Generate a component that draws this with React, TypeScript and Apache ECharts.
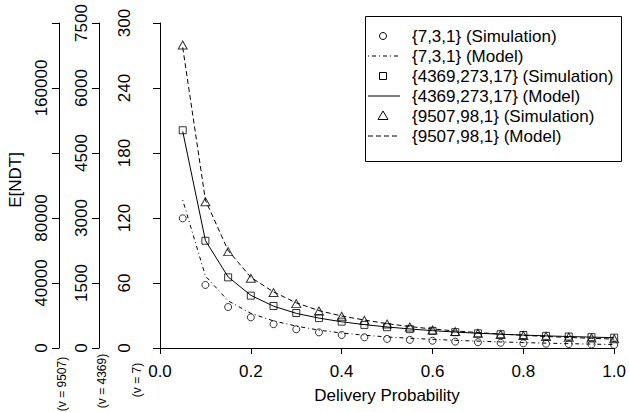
import React, { useEffect, useRef } from "react";
import * as echarts from "echarts";

const probs = [0.05, 0.1, 0.15, 0.2, 0.25, 0.3, 0.35, 0.4, 0.45, 0.5, 0.55, 0.6, 0.65, 0.7, 0.75, 0.8, 0.85, 0.9, 0.95, 1.0];

// {7,3,1}  (v = 7 axis)
const sim7 = [119.7, 58.2, 37.8, 28.3, 22, 17.3, 14.4, 12, 9.9, 8.4, 7.5, 6.7, 5.9, 5.3, 4.8, 4.3, 3.9, 3.6, 3.2, 2.8];
const model7 = [136.6, 66.5, 43.5, 32, 25, 20.2, 16.5, 13.8, 11.8, 10.2, 9, 8, 7.1, 6.3, 5.6, 5, 4.5, 4, 3.6, 3.2];

// {4369,273,17}  (v = 4369 axis)
const sim4369 = [5025, 2475, 1630, 1208, 970, 808, 690, 608, 533, 480, 435, 395, 365, 338, 318, 300, 280, 265, 250, 238];
const model4369 = [5000, 2480, 1640, 1215, 965, 800, 690, 605, 540, 485, 440, 400, 368, 340, 318, 298, 280, 265, 251, 238];

// {9507,98,1}  (v = 9507 axis)
const sim9507 = [186500, 90000, 59300, 42900, 34100, 27300, 22800, 19500, 17000, 14800, 12900, 11100, 10100, 9070, 8330, 7730, 7130, 6670, 6130, 5730];
const model9507 = [185000, 91000, 60000, 43500, 34500, 27800, 23000, 19700, 17200, 15000, 13200, 11700, 10500, 9500, 8600, 7800, 7100, 6500, 5950, 5450];

const legendLabels = [
  "{7,3,1} (Simulation)",
  "{7,3,1} (Model)",
  "{4369,273,17} (Simulation)",
  "{4369,273,17} (Model)",
  "{9507,98,1} (Simulation)",
  "{9507,98,1} (Model)",
];

const FONT = "'Liberation Sans', Arial, Helvetica, sans-serif";
const FS = 17;
const DOTDASH = [1, 3, 4, 3];
const DASH = [5, 3];

const pairs = (ys: number[]) => probs.map((p, i) => [p, ys[i]]);

function yAxisDef(max: number, interval: number, offset: number, hide: number[] = []) {
  return {
    type: "value",
    position: "left",
    min: 0,
    max,
    interval,
    offset,
    splitLine: { show: false },
    axisLine: { show: true, lineStyle: { color: "#000", width: 1 } },
    axisTick: { show: true, length: 7, lineStyle: { color: "#000", width: 1 } },
    axisLabel: {
      rotate: 90,
      fontSize: FS,
      color: "#000",
      fontFamily: FONT,
      margin: 9,
      showMaxLabel: true,
      formatter: (v: number) => (hide.includes(v) ? "" : String(v)),
    },
  };
}

export default function App() {
  const ref = useRef<HTMLDivElement>(null);
  useEffect(() => {
    document.body.style.margin = "0";
    const chart = echarts.init(ref.current!, null, { renderer: "svg" });
    const rowY = [36, 56, 76, 96, 116, 136];
    const symX = 383;
    const graphic: any[] = [
      {
        type: "rect",
        shape: { x: 365.5, y: 16.5, width: 256, height: 145 },
        style: { fill: "#fff", stroke: "#000", lineWidth: 1 },
        z: 100,
      },
      { type: "circle", shape: { cx: symX, cy: rowY[0], r: 3.5 }, style: { fill: "none", stroke: "#000", lineWidth: 1 }, z: 101 },
      { type: "line", shape: { x1: 368, y1: rowY[1], x2: 400, y2: rowY[1] }, style: { stroke: "#000", lineWidth: 1, lineDash: DOTDASH }, z: 101 },
      { type: "rect", shape: { x: symX - 3.5, y: rowY[2] - 3.5, width: 7, height: 7 }, style: { fill: "none", stroke: "#000", lineWidth: 1 }, z: 101 },
      { type: "line", shape: { x1: 368, y1: rowY[3], x2: 400, y2: rowY[3] }, style: { stroke: "#000", lineWidth: 1 }, z: 101 },
      {
        type: "polygon",
        shape: { points: [[symX, rowY[4] - 5], [symX + 5, rowY[4] + 3.5], [symX - 5, rowY[4] + 3.5]] },
        style: { fill: "none", stroke: "#000", lineWidth: 1 },
        z: 101,
      },
      { type: "line", shape: { x1: 368, y1: rowY[5], x2: 400, y2: rowY[5] }, style: { stroke: "#000", lineWidth: 1, lineDash: DASH }, z: 101 },
      ...legendLabels.map((t, i) => ({
        type: "text",
        x: 412,
        y: rowY[i],
        style: { text: t, fontSize: FS, fontFamily: FONT, fill: "#000", verticalAlign: "middle", align: "left" },
        z: 101,
      })),
      {
        type: "text",
        x: 15,
        y: 180,
        rotation: Math.PI / 2,
        style: { text: "E[NDT]", fontSize: FS, fontFamily: FONT, fill: "#000", align: "center", verticalAlign: "middle" },
      },
      {
        type: "text",
        x: 62,
        y: 384,
        rotation: Math.PI / 2,
        style: { text: "(v = 9507)", fontSize: 12, fontFamily: FONT, fill: "#000", align: "center", verticalAlign: "middle" },
      },
      {
        type: "text",
        x: 102,
        y: 381,
        rotation: Math.PI / 2,
        style: { text: "(v = 4369)", fontSize: 12, fontFamily: FONT, fill: "#000", align: "center", verticalAlign: "middle" },
      },
      {
        type: "text",
        x: 137,
        y: 380,
        rotation: Math.PI / 2,
        style: { text: "(v = 7)", fontSize: 12, fontFamily: FONT, fill: "#000", align: "center", verticalAlign: "middle" },
      },
    ];

    const symStyle = { color: "transparent", borderColor: "#000", borderWidth: 1 };

    chart.setOption({
      animation: false,
      backgroundColor: "#fff",
      grid: { left: 160, right: 10, top: 23, bottom: 64, containLabel: false },
      xAxis: {
        type: "value",
        min: 0,
        max: 1,
        interval: 0.2,
        offset: 9,
        name: "Delivery Probability",
        nameLocation: "middle",
        nameGap: 30,
        nameTextStyle: { fontSize: FS, color: "#000", fontFamily: FONT },
        splitLine: { show: false },
        axisLine: { show: true, lineStyle: { color: "#000", width: 1 } },
        axisTick: { show: true, length: 6, lineStyle: { color: "#000", width: 1 } },
        axisLabel: {
          fontSize: FS,
          color: "#000",
          fontFamily: FONT,
          margin: 6,
          formatter: (v: number) => v.toFixed(1),
        },
      },
      yAxis: [
        yAxisDef(300, 60, 18),
        yAxisDef(7500, 1500, 61),
        yAxisDef(200000, 40000, 101, [120000, 200000]),
      ],
      graphic,
      series: [
        {
          name: legendLabels[0],
          type: "scatter",
          yAxisIndex: 0,
          symbol: "circle",
          symbolSize: 7,
          itemStyle: symStyle,
          data: pairs(sim7),
        },
        {
          name: legendLabels[1],
          type: "line",
          yAxisIndex: 0,
          symbol: "none",
          lineStyle: { color: "#000", width: 1, type: DOTDASH },
          data: pairs(model7),
        },
        {
          name: legendLabels[2],
          type: "scatter",
          yAxisIndex: 1,
          symbol: "rect",
          symbolSize: 7,
          itemStyle: symStyle,
          data: pairs(sim4369),
        },
        {
          name: legendLabels[3],
          type: "line",
          yAxisIndex: 1,
          symbol: "none",
          lineStyle: { color: "#000", width: 1 },
          data: pairs(model4369),
        },
        {
          name: legendLabels[4],
          type: "scatter",
          yAxisIndex: 2,
          symbol: "triangle",
          symbolSize: [9, 8],
          itemStyle: symStyle,
          data: pairs(sim9507),
        },
        {
          name: legendLabels[5],
          type: "line",
          yAxisIndex: 2,
          symbol: "none",
          lineStyle: { color: "#000", width: 1, type: DASH },
          data: pairs(model9507),
        },
      ],
    });
    return () => chart.dispose();
  }, []);
  return <div ref={ref} style={{ width: 629, height: 412 }} />;
}
